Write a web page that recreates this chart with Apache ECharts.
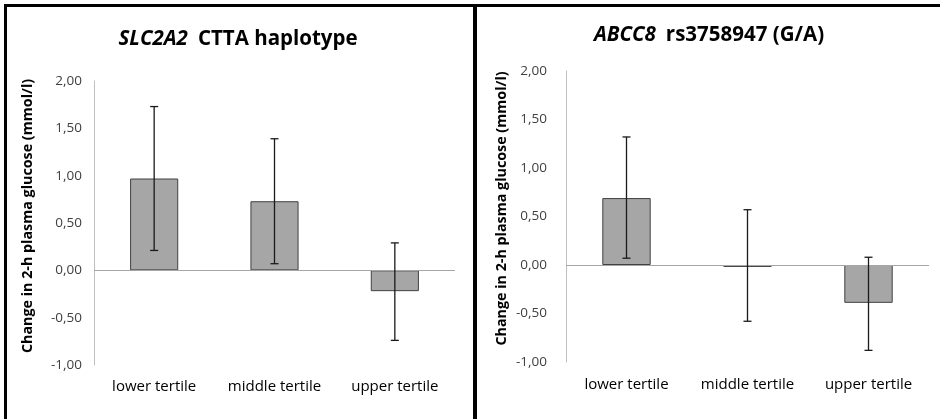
<!DOCTYPE html>
<html>
<head>
<meta charset="utf-8">
<script src="https://cdn.jsdelivr.net/npm/echarts@6/dist/echarts.min.js"></script>
<style>
html,body{margin:0;padding:0;background:#fff;}
#c{width:940px;height:419px;}
</style>
</head>
<body>
<div id="c"></div>
<script>
const categories = ['lower tertile', 'middle tertile', 'upper tertile'];
const yTicks = { min: -1, max: 2, step: 0.5 };

const slcMeans = [0.97, 0.73, -0.22];
const slcLow = [0.21, 0.07, -0.74];
const slcHigh = [1.73, 1.39, 0.29];

const abcMeans = [0.69, -0.02, -0.39];
const abcLow = [0.07, -0.58, -0.88];
const abcHigh = [1.32, 0.57, 0.08];

const yTitle = 'Change in 2-h plasma glucose (mmol/l)';
const FONT = '"Open Sans", "Noto Sans", sans-serif';

const chart = echarts.init(document.getElementById('c'), null, { renderer: 'canvas' });

function fmt(v) { return v.toFixed(2).replace('.', ','); }

function errData(low, high) {
  return categories.map((c, i) => [i, low[i], high[i]]);
}

function renderErr(params, api) {
  const i = api.value(0);
  const lo = api.coord([i, api.value(1)]);
  const hi = api.coord([i, api.value(2)]);
  const hw = 4;
  const st = { stroke: '#1a1a1a', lineWidth: 1.3 };
  return {
    type: 'group',
    children: [
      { type: 'line', shape: { x1: lo[0], y1: lo[1], x2: hi[0], y2: hi[1] }, style: st },
      { type: 'line', shape: { x1: lo[0] - hw, y1: lo[1], x2: lo[0] + hw, y2: lo[1] }, style: st },
      { type: 'line', shape: { x1: hi[0] - hw, y1: hi[1], x2: hi[0] + hw, y2: hi[1] }, style: st }
    ]
  };
}

function xAxis(gi, margin) {
  return {
    type: 'category', gridIndex: gi, data: categories,
    axisLine: { show: false }, axisTick: { show: false },
    axisLabel: { interval: 0, hideOverlap: false, margin: margin, color: '#000', fontSize: 15, fontFamily: FONT }
  };
}
function yAxis(gi, labelMargin, nameGap, shift) {
  return {
    type: 'value', gridIndex: gi, min: yTicks.min, max: yTicks.max, interval: yTicks.step,
    splitLine: { show: false }, axisTick: { show: false },
    axisLine: { show: true, lineStyle: { color: '#bfbfbf', width: 1 } },
    axisLabel: { margin: labelMargin, color: '#404040', fontSize: 13.5, fontFamily: FONT, formatter: fmt },
    name: yTitle, nameLocation: 'middle', nameGap: nameGap, nameRotate: 90,
    nameTextStyle: { fontWeight: 'bold', fontSize: 14.3, color: '#000', fontFamily: FONT, padding: [0, 0, 0, shift] }
  };
}
function barSeries(gi, vals) {
  return {
    type: 'bar', xAxisIndex: gi, yAxisIndex: gi, data: vals, barWidth: '40%', z: 3,
    itemStyle: { color: '#a6a6a6', borderColor: '#404040', borderWidth: 1 },
    silent: true
  };
}
function zeroSeries(gi) {
  return {
    type: 'line', xAxisIndex: gi, yAxisIndex: gi, data: [], z: 1, silent: true,
    markLine: {
      silent: true, symbol: 'none', label: { show: false }, animation: false,
      lineStyle: { color: '#a6a6a6', type: 'solid', width: 1.2 },
      data: [{ yAxis: 0 }]
    }
  };
}
function errSeries(gi, low, high) {
  return {
    type: 'custom', xAxisIndex: gi, yAxisIndex: gi, silent: true,
    data: errData(low, high), renderItem: renderErr, z: 5
  };
}

const option = {
  backgroundColor: '#fff',
  animation: false,
  title: [
    {
      text: '{i|SLC2A2}  {b|CTTA haplotype}', left: 233, top: 24, textAlign: 'center',
      textStyle: { rich: {
        i: { fontStyle: 'italic', fontWeight: 'bold', fontSize: 20.5, fontFamily: FONT, color: '#000' },
        b: { fontWeight: 'bold', fontSize: 20.5, fontFamily: FONT, color: '#000' }
      } }
    },
    {
      text: '{i|ABCC8}  {b|rs3758947 (G/A)}', left: 704, top: 20, textAlign: 'center',
      textStyle: { rich: {
        i: { fontStyle: 'italic', fontWeight: 'bold', fontSize: 20.5, fontFamily: FONT, color: '#000' },
        b: { fontWeight: 'bold', fontSize: 20.5, fontFamily: FONT, color: '#000' }
      } }
    }
  ],
  grid: [
    { left: 94, top: 81, width: 361, height: 284, containLabel: false },
    { left: 566, top: 71, width: 363, height: 291, containLabel: false }
  ],
  xAxis: [xAxis(0, 14), xAxis(1, 15)],
  yAxis: [yAxis(0, 12, 59, 14), yAxis(1, 19, 57, 16)],
  series: [
    zeroSeries(0), barSeries(0, slcMeans), errSeries(0, slcLow, slcHigh),
    zeroSeries(1), barSeries(1, abcMeans), errSeries(1, abcLow, abcHigh)
  ],
  graphic: [
    { type: 'rect', shape: { x: 4, y: 4, width: 936, height: 3 }, style: { fill: '#000' }, silent: true },
    { type: 'rect', shape: { x: 4, y: 4, width: 3, height: 415 }, style: { fill: '#000' }, silent: true },
    { type: 'rect', shape: { x: 473, y: 4, width: 4, height: 415 }, style: { fill: '#000' }, silent: true }
  ]
};
chart.setOption(option);
</script>
</body>
</html>
